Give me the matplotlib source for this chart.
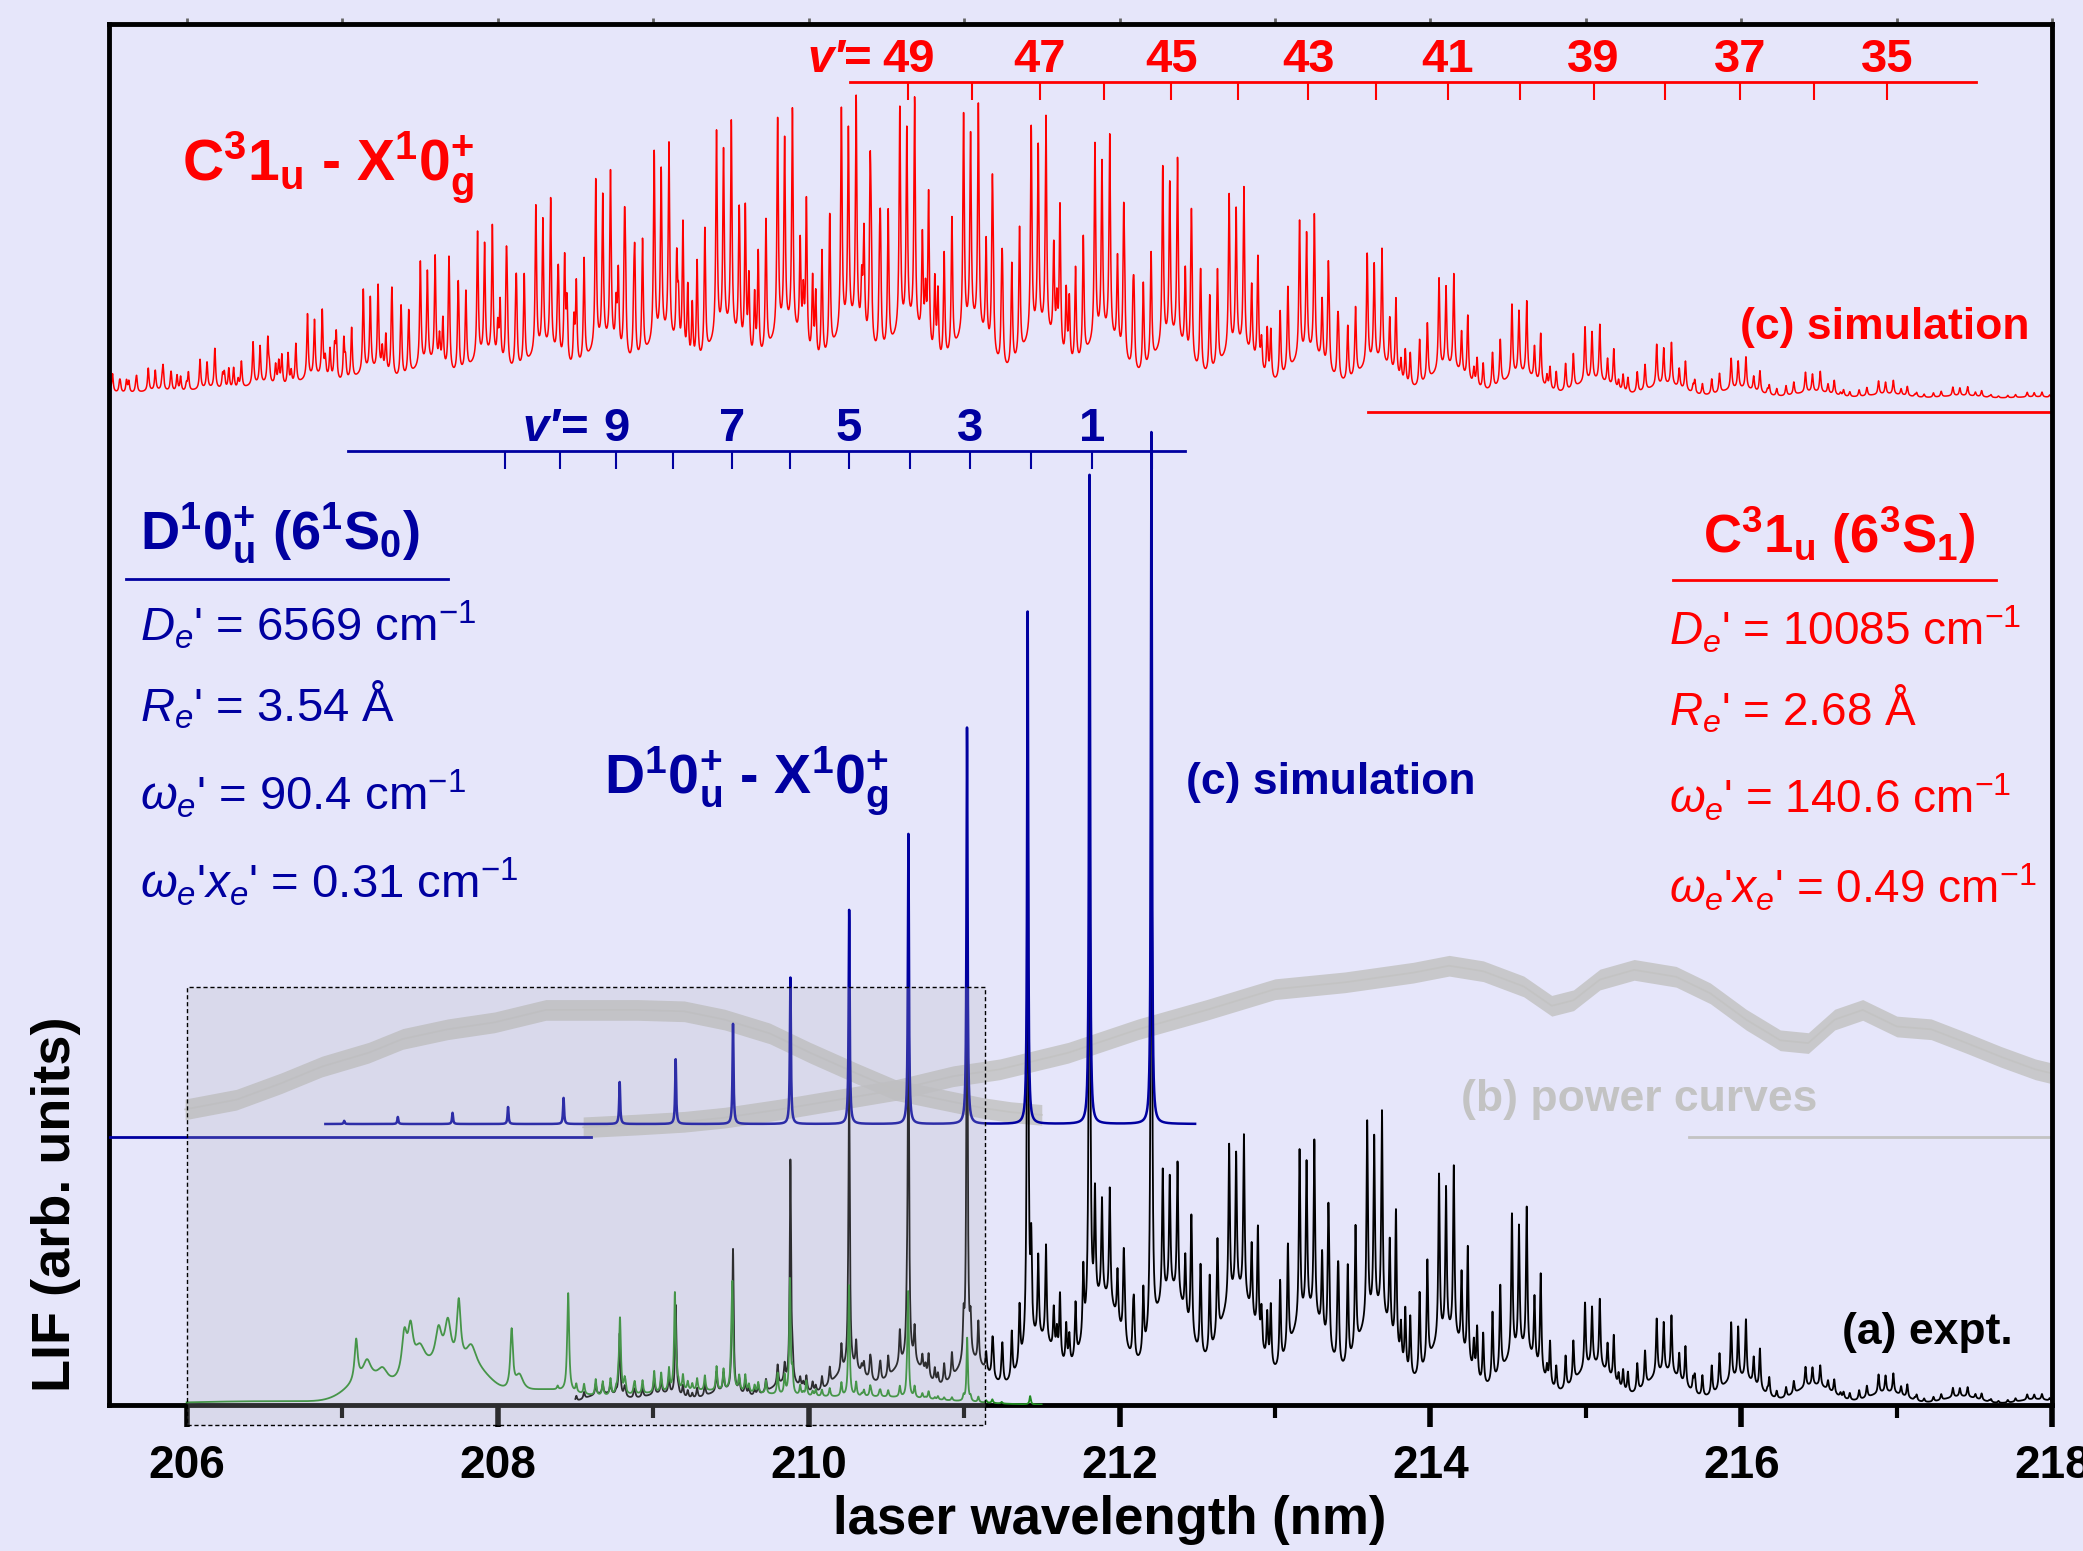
import numpy as np
import matplotlib
matplotlib.use("Agg")
import matplotlib.pyplot as plt
from matplotlib import font_manager
from matplotlib.patches import Rectangle

names = {f.name for f in font_manager.fontManager.ttflist}
FONT = "Liberation Sans Narrow" if "Liberation Sans Narrow" in names else "Liberation Sans"

plt.rcParams["font.family"] = [FONT, "DejaVu Sans"]
plt.rcParams["mathtext.fontset"] = "custom"
plt.rcParams["mathtext.rm"] = FONT
plt.rcParams["mathtext.it"] = FONT + ":italic"
plt.rcParams["mathtext.bf"] = FONT + ":bold"

# ---------------- data ----------------
# C-X band centres (nm) and line amplitudes
cx_band_nm = [205.483, 205.808, 206.141, 206.482, 206.832, 207.191, 207.558, 207.926,
              208.301, 208.686, 209.062, 209.463, 209.856, 210.266, 210.642, 211.052,
              211.487, 211.897, 212.333, 212.760, 213.213, 213.648, 214.110, 214.579,
              215.049, 215.510, 215.989, 216.467, 216.937, 217.415, 217.893]
red_band_amp = [1.3, 1.7, 2.2, 3.2, 4.8, 6.2, 7.8, 9.5, 11.0, 12.5, 14.1, 15.3, 16.0, 16.6,
                16.6, 16.3, 15.6, 14.6, 13.3, 11.7, 10.2, 8.3, 6.9, 5.4, 4.1, 3.1, 2.3,
                1.5, 1.0, 0.65, 0.35]
black_band_amp = [0, 0, 0, 0, 0, 0, 0, 0, 0, 0.8, 1.2, 1.5, 1.5, 2.0, 2.5, 3.0, 7.0, 8.3,
                  9.7, 11.7, 12.7, 14.8, 12.3, 10.5, 4.9, 4.2, 4.3, 1.5, 1.4, 0.7, 0.4]
black_band_ped = [0, 0, 0, 0, 0, 0, 0, 0, 0, 0.8, 0.8, 1.0, 1.5, 2.5, 3.0, 3.0, 4.5, 7.5,
                  8.0, 8.0, 6.5, 6.5, 5.0, 3.8, 2.8, 2.3, 1.9, 1.4, 0.9, 0.6, 0.4]
green_band_amp = [0, 0, 0, 0, 0, 0, 0, 0, 0, 1.2, 1.6, 1.8, 1.6, 1.0, 0.8, 0.4,
                  0, 0, 0, 0, 0, 0, 0, 0, 0, 0, 0, 0, 0, 0, 0]

# rotational line pattern inside one band (offset nm, relative height)
line_off = [-0.30, -0.24, -0.18, -0.13, -0.055, -0.01, 0.04, 0.09, 0.13, 0.19]
line_rel = [0.22, 0.35, 0.48, 0.60, 0.97, 0.85, 1.00, 0.45, 0.68, 0.30]

# v' combs
red_comb_v = [49, 48, 47, 46, 45, 44, 43, 42, 41, 40, 39, 38, 37, 36, 35]
red_comb_nm = [210.642, 211.052, 211.487, 211.897, 212.333, 212.760, 213.213, 213.648,
               214.110, 214.579, 215.049, 215.510, 215.989, 216.467, 216.937]
blue_comb_v = [11, 10, 9, 8, 7, 6, 5, 4, 3, 2, 1, 0]
blue_comb_nm = [208.050, 208.399, 208.764, 209.125, 209.506, 209.880, 210.257, 210.650,
                211.036, 211.428, 211.821, 212.211]

# D-X simulation peaks
blue_nm = [207.013, 207.358, 207.710, 208.067, 208.424, 208.785, 209.145, 209.514,
           209.883, 210.261, 210.642, 211.019, 211.409, 211.807, 212.205]
blue_amp = [0.23, 0.51, 0.81, 1.23, 1.89, 3.04, 4.69, 7.25, 10.6, 15.5, 21.0, 28.7,
            37.1, 47.0, 50.1]

# D-X peaks in experiment (black)
black_dx_nm = [208.785, 209.145, 209.514, 209.883, 210.261, 210.642, 211.019, 211.409,
               211.807, 212.205]
black_dx_amp = [4.4, 6.3, 10.0, 16.0, 20.0, 26.0, 31.7, 47.0, 48.0, 45.0]

# green trace peaks (nm, height, half width)
green_nm = [207.09, 207.16, 207.26, 207.40, 207.44, 207.50, 207.62, 207.68, 207.75, 207.83,
            208.09, 208.14, 208.454, 208.787, 209.14, 209.51, 209.88, 210.26, 210.64,
            211.02, 211.425]
green_amp = [3.0, 1.3, 1.0, 3.0, 3.0, 1.6, 2.6, 3.2, 4.5, 1.6, 4.3, 1.2, 7.0, 5.5, 7.0,
             7.3, 8.3, 7.5, 7.5, 4.6, 0.6]
green_hw = [0.012, 0.03, 0.04, 0.02, 0.02, 0.04, 0.025, 0.025, 0.015, 0.04, 0.01, 0.03,
            0.007, 0.007, 0.006, 0.006, 0.005, 0.005, 0.005, 0.005, 0.005]
green_bg_nm = [206.5, 207.15, 207.55, 207.85, 208.3, 209.3, 210.5]
green_bg_amp = [0.25, 1.5, 2.2, 2.0, 0.9, 1.0, 0.5]
green_bg_sig = [0.6, 0.12, 0.15, 0.12, 0.2, 0.5, 0.4]

# power curves (centre line)
gray_left_nm = [205.99, 206.32, 206.61, 206.87, 207.17, 207.39, 207.68, 207.98, 208.31,
                208.57, 208.90, 209.20, 209.46, 209.75, 210.01, 210.31, 210.56, 210.86,
                211.12, 211.30, 211.50]
gray_left_val = [21.4, 22.1, 23.3, 24.5, 25.5, 26.5, 27.2, 27.7, 28.6, 28.6, 28.6, 28.5,
                 27.9, 26.9, 25.5, 24.0, 22.8, 22.1, 21.5, 21.2, 21.0]
gray_right_nm = [208.55, 208.90, 209.20, 209.46, 209.82, 210.19, 210.56, 210.93, 211.23,
                 211.67, 212.12, 212.56, 213.00, 213.45, 213.89, 214.12, 214.34, 214.60,
                 214.78, 214.92, 215.09, 215.31, 215.58, 215.80, 216.03, 216.25, 216.43,
                 216.60, 216.78, 217.00, 217.22, 217.45, 217.67, 217.89, 218.00]
gray_right_val = [20.1, 20.3, 20.5, 20.8, 21.4, 22.1, 22.8, 23.8, 24.3, 25.5, 27.2, 28.6,
                  30.1, 30.6, 31.3, 31.8, 31.4, 30.3, 28.9, 29.3, 30.8, 31.5, 31.0, 29.8,
                  27.9, 26.4, 26.2, 27.9, 28.6, 27.4, 27.2, 26.2, 25.2, 24.3, 24.0]

# offsets / zero lines
RED_BASE = 72.88
BLUE_BASE = 20.34

# ---------------- helpers ----------------
LINE_HW = 0.0055
PED_SIG = 0.12
RED_PED_FRAC = 0.3


def lor(x, c, h, w):
    return h / (1 + ((x - c) / w) ** 2)


def bands(x, amps, peds):
    y = np.zeros_like(x)
    for c, h, p in zip(cx_band_nm, amps, peds):
        if h > 0:
            for o, r in zip(line_off, line_rel):
                y += lor(x, c + o, h * r, LINE_HW)
        if p > 0:
            y += p * np.exp(-0.5 * ((x - c) / PED_SIG) ** 2)
    return y


x = np.arange(205.5, 218.0005, 0.001)

red_y = RED_BASE + bands(x, red_band_amp, [RED_PED_FRAC * a for a in red_band_amp])

xb = x[(x >= 206.892) & (x <= 212.487)]
blue_y = BLUE_BASE + sum(lor(xb, c, h, 0.004) for c, h in zip(blue_nm, blue_amp))

xk = x[x >= 208.5]
black_y = bands(xk, black_band_amp, black_band_ped)
black_y += sum(lor(xk, c, h, 0.005) for c, h in zip(black_dx_nm, black_dx_amp))

xg = x[(x >= 206.0) & (x <= 211.5)]
green_y = bands(xg, green_band_amp, [0] * len(cx_band_nm))
green_y += sum(lor(xg, c, h, w) for c, h, w in zip(green_nm, green_amp, green_hw))
green_y += sum(h * np.exp(-0.5 * ((xg - c) / s) ** 2)
               for c, h, s in zip(green_bg_nm, green_bg_amp, green_bg_sig))

# ---------------- figure ----------------
BG = "#E6E6FA"
RED = "#FF0000"
BLUE = "#0000A0"
GRAY = "#C3C3C3"
GREEN = "#228B22"

fig = plt.figure(figsize=(20.83, 15.51), dpi=100, facecolor=BG)
ax = fig.add_axes([0.0523, 0.0942, 0.9330, 0.8904], facecolor=BG)
ax.set_xlim(205.5, 218.0)
ax.set_ylim(0, 100)

# power curves
for gx, gy in [(gray_left_nm, gray_left_val), (gray_right_nm, gray_right_val)]:
    gy = np.array(gy)
    ax.fill_between(gx, gy - 0.75, gy + 0.75, color=GRAY, alpha=0.85, lw=0, zorder=1)
    ax.plot(gx, gy, color=GRAY, lw=1.2, zorder=1)
ax.plot([215.66, 218.0], [19.4, 19.4], color=GRAY, lw=2, zorder=1)

# C-X simulation
ax.plot(x, red_y, color=RED, lw=1.1, zorder=2)
ax.plot([213.6, 218.0], [71.9, 71.9], color=RED, lw=2, zorder=2)

# experiment
ax.plot(xk, black_y, color="black", lw=1.3, zorder=3)
ax.plot(xg, green_y, color=GREEN, lw=1.3, zorder=4)

# D-X simulation
ax.plot(xb, blue_y, color=BLUE, lw=1.8, zorder=5)
ax.plot([205.5, 208.6], [19.42, 19.42], color=BLUE, lw=2, zorder=5)

# v' combs
ax.plot([210.266, 217.509], [95.77, 95.77], color=RED, lw=2, zorder=5)
ax.vlines(red_comb_nm, 94.52, 95.77, color=RED, lw=1.5, zorder=5)
for v, c in zip(red_comb_v, red_comb_nm):
    if v % 2:
        ax.text(c, 96.5, str(v), color=RED, fontsize=34, fontweight="bold",
                ha="center", va="baseline")
ax.text(210.317, 96.5, "=", color=RED, fontsize=34, fontweight="bold", ha="center", va="baseline")
ax.text(210.235, 96.5, "v\u2032", color=RED, fontsize=34, fontweight="bold",
        fontstyle="italic", ha="right", va="baseline")

ax.plot([207.037, 212.418], [69.04, 69.04], color=BLUE, lw=2, zorder=5)
ax.vlines(blue_comb_nm, 67.79, 69.04, color=BLUE, lw=1.5, zorder=5)
for v, c in zip(blue_comb_v, blue_comb_nm):
    if v % 2 and v < 10:
        ax.text(c, 69.8, str(v), color=BLUE, fontsize=34, fontweight="bold",
                ha="center", va="baseline")
ax.text(208.498, 69.8, "=", color=BLUE, fontsize=34, fontweight="bold", ha="center", va="baseline")
ax.text(208.40, 69.8, "v\u2032", color=BLUE, fontsize=34, fontweight="bold",
        fontstyle="italic", ha="right", va="baseline")

# shaded region
ax.add_patch(Rectangle((206.0, -1.44), 5.137, 31.73, facecolor=(0.71, 0.71, 0.75, 0.25),
                       edgecolor="black", lw=1, ls=(0, (3, 2)), clip_on=False, zorder=10))

# labels
ax.text(205.97, 88.6, r"$\mathbf{C^{3}1_{u}}$ - $\mathbf{X^{1}0_{g}^{+}}$", color=RED,
        fontsize=41, fontweight="bold", va="baseline", ha="left")
ax.text(217.85, 77.2, "(c) simulation", color=RED, fontsize=32, fontweight="bold",
        ha="right", va="baseline")

ax.text(205.70, 62.0, r"$\mathbf{D^{1}0_{u}^{+}}$ $\mathbf{(6^{1}S_{0})}$", color=BLUE,
        fontsize=39, fontweight="bold", va="baseline")
ax.plot([205.61, 207.68], [59.8, 59.8], color=BLUE, lw=2, clip_on=False)
blue_params = [r"$D_{e}$' = 6569 cm$^{-1}$", r"$R_{e}$' = 3.54 Å",
               r"$\omega_{e}$' = 90.4 cm$^{-1}$", r"$\omega_{e}$'$x_{e}$' = 0.31 cm$^{-1}$"]
for s, yv in zip(blue_params, [55.3, 49.5, 43.1, 36.7]):
    ax.text(205.70, yv, s, color=BLUE, fontsize=34, va="baseline")

ax.text(208.686, 44.3, r"$\mathbf{D^{1}0_{u}^{+}}$ - $\mathbf{X^{1}0_{g}^{+}}$", color=BLUE,
        fontsize=40, fontweight="bold", va="baseline")
ax.text(212.427, 44.2, "(c) simulation", color=BLUE, fontsize=32, fontweight="bold",
        va="baseline")

ax.text(215.75, 61.7, r"$\mathbf{C^{3}1_{u}}$ $\mathbf{(6^{3}S_{1})}$", color=RED,
        fontsize=38, fontweight="bold", va="baseline")
ax.plot([215.56, 217.64], [59.7, 59.7], color=RED, lw=2)
red_params = [r"$D_{e}$' = 10085 cm$^{-1}$", r"$R_{e}$' = 2.68 Å",
              r"$\omega_{e}$' = 140.6 cm$^{-1}$", r"$\omega_{e}$'$x_{e}$' = 0.49 cm$^{-1}$"]
for s, yv in zip(red_params, [55.0, 49.2, 42.8, 36.3]):
    ax.text(215.536, yv, s, color=RED, fontsize=33, va="baseline")

ax.text(214.195, 21.3, "(b) power curves", color=GRAY, fontsize=32, fontweight="bold",
        va="baseline")
ax.text(216.65, 4.4, "(a) expt.", color="black", fontsize=32, fontweight="bold",
        va="baseline")

# axes styling
ax.set_xticks(np.arange(206, 219, 2))
ax.set_xticks(np.arange(207, 218, 2), minor=True)
ax.set_xticklabels([str(t) for t in range(206, 219, 2)], fontsize=33, fontweight="bold")
ax.set_yticks([])
ax.tick_params(axis="x", which="major", direction="out", length=16, width=4, pad=12)
ax.tick_params(axis="x", which="minor", direction="out", length=9, width=3)
for sp in ax.spines.values():
    sp.set_linewidth(3.5)

top = ax.secondary_xaxis("top")
top.set_xticks(np.arange(206, 219, 1))
top.set_xticklabels([])
top.tick_params(direction="out", length=4, width=2, color="#666666")
top.spines["top"].set_visible(False)

fig.text(0.5325, 0.0197, "laser wavelength (nm)", fontsize=38, fontweight="bold",
         ha="center", va="center")
fig.text(0.0268, 0.2235, "LIF (arb. units)", fontsize=39, fontweight="bold",
         rotation=90, ha="center", va="center")

fig.savefig("out.png", dpi=100, facecolor=BG)
